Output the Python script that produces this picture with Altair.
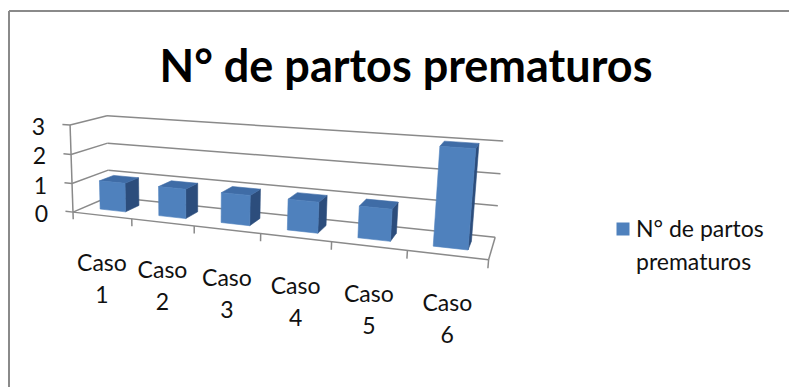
import textwrap

import altair as alt
import numpy as np
import pandas as pd

# ---- data -------------------------------------------------------------
categories = ["Caso 1", "Caso 2", "Caso 3", "Caso 4", "Caso 5", "Caso 6"]
partos = [1, 1, 1, 1, 1, 3]
series_name = "N° de partos prematuros"
value_ticks = [0, 1, 2, 3]

# ---- page / style -----------------------------------------------------
W, H = 789, 387
FONT = "Lato"
LABEL_SIZE = 23
GRID = "#8a8a8a"
FRONT, TOP, SIDE = "#4f81bd", "#3f6ca6", "#2c4d7c"
BAR_FRAC = 0.44          # share of a category slot taken by a column
BAR_DEPTH = (0.30, 0.70)  # column extent along the depth axis

# ---- 3-D camera ---------------------------------------------------------
# Box coordinates: u runs across the categories (0..1), v is the value
# (0..3) and w the depth (0 = front edge, 1 = back wall).  The page
# positions of a few box points define a projective camera (DLT fit).
anchors = [
    ((0, 0, 0), (74, 212)), ((0, 1, 0), (72, 183)),
    ((0, 2, 0), (71, 154)), ((0, 3, 0), (69, 126)),
    ((0, 0, 1), (108, 198)), ((0, 1, 1), (108, 170)),
    ((0, 2, 1), (108, 143)), ((0, 3, 1), (108, 115)),
    ((1, 0, 1), (495, 236.7)), ((1, 1, 1), (498.3, 205.7)),
    ((1, 2, 1), (500, 173.3)), ((1, 3, 1), (503.3, 141.7)),
    ((1 / 6, 0, 0), (131.7, 218.7)), ((2 / 6, 0, 0), (195, 226.0)),
    ((3 / 6, 0, 0), (260, 233.5)), ((4 / 6, 0, 0), (331.7, 241.8)),
    ((5 / 6, 0, 0), (406.7, 250.5)), ((1, 0, 0), (489.3, 260.0)),
]


def solve_camera(pairs):
    src = np.array([p[0] for p in pairs], float)
    dst = np.array([p[1] for p in pairs], float)
    mean = dst.mean(axis=0)
    s = np.sqrt(2) / np.mean(np.linalg.norm(dst - mean, axis=1))
    T = np.array([[s, 0, -s * mean[0]], [0, s, -s * mean[1]], [0, 0, 1]])
    dn = (dst - mean) * s
    rows = []
    for (a, b, c), (px, py) in zip(src, dn):
        rows.append([a, b, c, 1, 0, 0, 0, 0, -px * a, -px * b, -px * c, -px])
        rows.append([0, 0, 0, 0, a, b, c, 1, -py * a, -py * b, -py * c, -py])
    _, _, vt = np.linalg.svd(np.array(rows))
    return np.linalg.inv(T) @ vt[-1].reshape(3, 4)


CAM = solve_camera(anchors)


def project(u, v, w):
    h = CAM @ np.array([u, v, w, 1.0])
    return float(h[0] / h[2]), float(h[1] / h[2])


n = len(categories)
vmax = max(value_ticks)

# ---- wall / floor / axis segments ---------------------------------------
segments = []


def seg(p, q):
    (x1, y1), (x2, y2) = project(*p), project(*q)
    segments.append({"x": x1, "y": y1, "x2": x2, "y2": y2})


for t in value_ticks:
    seg((0, t, 1), (1, t, 1))        # back wall grid
    seg((0, t, 0), (0, t, 1))        # side wall grid
    seg((0, t, 0), (-0.022, t, 0))   # value-axis tick
seg((0, 0, 0), (0, vmax, 0))         # value axis
seg((0, 0, 0), (1, 0, 0))            # floor front edge
seg((1, 0, 0), (1, 0, 1))            # floor right edge
for k in range(n + 1):
    seg((k / n, 0, 0), (k / n, -0.25, 0))  # category ticks
seg_df = pd.DataFrame(segments)

# ---- column faces --------------------------------------------------------
faces = []
w0, w1 = BAR_DEPTH
for k, (cat, val) in enumerate(zip(categories, partos)):
    u0 = (k + 0.5 - BAR_FRAC / 2) / n
    u1 = (k + 0.5 + BAR_FRAC / 2) / n
    quads = {
        "side": [(u1, 0, w0), (u1, 0, w1), (u1, val, w1), (u1, val, w0)],
        "top": [(u0, val, w0), (u1, val, w0), (u1, val, w1), (u0, val, w1)],
        "front": [(u0, 0, w0), (u1, 0, w0), (u1, val, w0), (u0, val, w0)],
    }
    for face, pts in quads.items():
        for i, p in enumerate(pts):
            px, py = project(*p)
            faces.append({"fid": f"{cat}-{face}", "face": face, "ord": i,
                          "px": px, "py": py, "value": val})
face_df = pd.DataFrame(faces)

# ---- labels ------------------------------------------------------------
ylab_df = pd.DataFrame(
    [{"label": str(t), "px": project(0, t, 0)[0], "py": project(0, t, 0)[1]}
     for t in value_ticks])
cat_df = pd.DataFrame(
    [{"label": c, "px": project((k + 0.5) / n, 0, 0)[0],
      "py": project((k + 0.5) / n, 0, 0)[1]} for k, c in enumerate(categories)])
legend_df = pd.DataFrame({"label": ["\n".join(textwrap.wrap(series_name, 12))]})

# ---- chart ---------------------------------------------------------------
xs = alt.Scale(domain=[0, W], nice=False, zero=False)
ys = alt.Scale(domain=[0, H], nice=False, zero=False, reverse=True)


def X(f="px"):
    return alt.X(f"{f}:Q", scale=xs, axis=None)


def Y(f="py"):
    return alt.Y(f"{f}:Q", scale=ys, axis=None)


one = pd.DataFrame({"k": [0]})

frame = alt.layer(
    alt.Chart(one).mark_rule(color="#8a8a8a", strokeWidth=2).encode(
        x=alt.value(9), y=alt.value(11), y2=alt.value(H)),
    alt.Chart(one).mark_rule(color="#8a8a8a", strokeWidth=2).encode(
        x=alt.value(9), x2=alt.value(W), y=alt.value(11)),
)

grid = alt.Chart(seg_df).mark_rule(color=GRID, strokeWidth=1.5).encode(
    x=X("x"), y=Y("y"), x2="x2:Q", y2="y2:Q")


def face_layer(name, color):
    return alt.Chart(face_df).transform_filter(
        alt.datum.face == name
    ).mark_line(fill=color, stroke=color, strokeWidth=0.6,
                interpolate="linear-closed").encode(
        x=X(), y=Y(), detail="fid:N", order="ord:Q")


bars = alt.layer(face_layer("side", SIDE), face_layer("top", TOP),
                 face_layer("front", FRONT))

ylabels = alt.Chart(ylab_df).mark_text(
    font=FONT, fontSize=LABEL_SIZE, align="right", baseline="middle",
    dx=-25, dy=3, color="#111111").encode(x=X(), y=Y(), text="label:N")

xlabels = alt.Chart(cat_df).mark_text(
    font=FONT, fontSize=LABEL_SIZE, align="center", baseline="alphabetic",
    dy=56, lineBreak=" ", lineHeight=32, color="#111111").encode(
    x=X(), y=Y(), text="label:N")

title = alt.Chart(one).mark_text(
    font=FONT, fontSize=45, fontWeight="bold", align="center",
    baseline="alphabetic", color="#000000").encode(
    x=alt.value(406), y=alt.value(82), text=alt.value(series_name))

legend_swatch = alt.Chart(one).mark_point(
    shape="square", filled=True, size=169, color=FRONT, opacity=1).encode(
    x=alt.value(623), y=alt.value(229))

legend_text = alt.Chart(legend_df).mark_text(
    font=FONT, fontSize=LABEL_SIZE, align="left", baseline="alphabetic",
    lineBreak="\n", lineHeight=33, color="#111111").encode(
    x=alt.value(636), y=alt.value(237), text="label:N")

chart = alt.layer(
    frame, grid, bars, ylabels, xlabels, title, legend_swatch, legend_text
).properties(
    width=W, height=H, padding=0,
    autosize=alt.AutoSizeParams(type="none"),
    background="white",
).configure_view(stroke=None)

chart.save("out.html", embed_options={"renderer": "svg", "actions": False})
